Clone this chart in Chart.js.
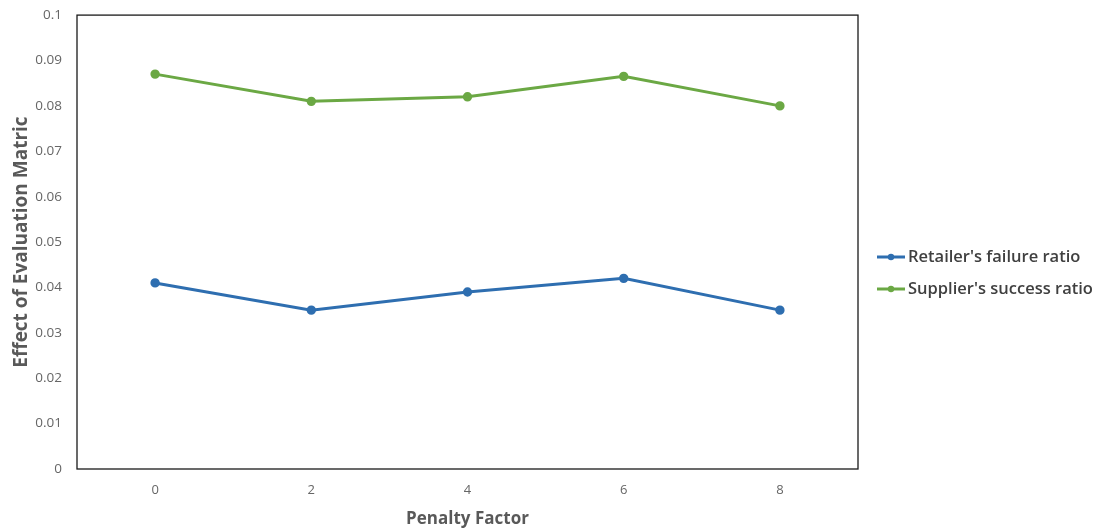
<!DOCTYPE html>
<html>
<head>
<meta charset="utf-8">
<script src="https://cdn.jsdelivr.net/npm/chart.js@4"></script>
<style>
  html, body { margin: 0; padding: 0; background: #fff; }
  #wrap { width: 1098px; height: 529px; }
</style>
</head>
<body>
<div id="wrap"><canvas id="c" width="1098" height="529"></canvas></div>
<script>
const categories = ['0', '2', '4', '6', '8'];
const retailerFailure = [0.041, 0.035, 0.039, 0.042, 0.035];
const supplierSuccess = [0.087, 0.081, 0.082, 0.0865, 0.080];
const yTicks = [0, 0.01, 0.02, 0.03, 0.04, 0.05, 0.06, 0.07, 0.08, 0.09, 0.1];

const FONT = '"Open Sans", "Noto Sans", sans-serif';
const BLUE = '#2E6EB0';
const GREEN = '#6BA844';

// Frame around the plot area
const frame = {
  id: 'frame',
  afterDatasetsDraw(chart) {
    const a = chart.chartArea, ctx = chart.ctx;
    ctx.save();
    ctx.strokeStyle = '#1a1a1a';
    ctx.lineWidth = 1.3;
    ctx.strokeRect(a.left, a.top, a.right - a.left, a.bottom - a.top);
    ctx.restore();
  }
};

// Legend on the right: line segment with a dot, then label
const sideLegend = {
  id: 'sideLegend',
  afterDraw(chart) {
    const ctx = chart.ctx;
    const x0 = 877, x1 = 905;
    const rows = [257, 289];
    ctx.save();
    chart.data.datasets.forEach((ds, i) => {
      const y = rows[i];
      ctx.strokeStyle = ds.borderColor;
      ctx.lineWidth = 3;
      ctx.beginPath();
      ctx.moveTo(x0, y);
      ctx.lineTo(x1, y);
      ctx.stroke();
      ctx.fillStyle = ds.borderColor;
      ctx.beginPath();
      ctx.arc((x0 + x1) / 2, y, 3.2, 0, Math.PI * 2);
      ctx.fill();
      ctx.fillStyle = '#404040';
      ctx.font = '600 16.5px ' + FONT;
      ctx.textBaseline = 'middle';
      ctx.textAlign = 'left';
      ctx.fillText(ds.label, x1 + 3, y);
    });
    ctx.restore();
  }
};

new Chart(document.getElementById('c'), {
  type: 'line',
  data: {
    labels: categories,
    datasets: [
      {
        label: "Retailer's failure ratio",
        data: retailerFailure,
        borderColor: BLUE,
        backgroundColor: BLUE,
        borderWidth: 3,
        pointRadius: 3.2,
        pointHoverRadius: 4,
        tension: 0
      },
      {
        label: "Supplier's success ratio",
        data: supplierSuccess,
        borderColor: GREEN,
        backgroundColor: GREEN,
        borderWidth: 3,
        pointRadius: 3.2,
        pointHoverRadius: 4,
        tension: 0
      }
    ]
  },
  options: {
    responsive: false,
    animation: false,
    layout: { padding: { top: 3, right: 240, left: 10, bottom: 0 } },
    plugins: {
      legend: { display: false },
      tooltip: { enabled: false }
    },
    scales: {
      x: {
        offset: true,
        grid: { display: false },
        border: { display: false },
        ticks: { color: '#666666', font: { family: FONT, size: 13 }, padding: 5 },
        title: {
          display: true,
          text: 'Penalty Factor',
          color: '#595959',
          font: { family: FONT, size: 17, weight: 'bold' },
          padding: { top: 8, bottom: 0 }
        },
        afterFit(scale) { scale.height = 60; }
      },
      y: {
        min: 0,
        max: 0.1,
        grid: { display: false },
        border: { display: false },
        afterBuildTicks(scale) { scale.ticks = yTicks.map(v => ({ value: v })); },
        ticks: {
          color: '#666666',
          font: { family: FONT, size: 13.5 },
          padding: 7,
          callback: v => String(+v.toFixed(2))
        },
        title: {
          display: true,
          text: 'Effect of Evaluation Matric',
          color: '#595959',
          font: { family: FONT, size: 19, weight: 'bold' },
          padding: { top: 0, bottom: 8 }
        },
        afterFit(scale) { scale.width = 67; }
      }
    }
  },
  plugins: [frame, sideLegend]
});
</script>
</body>
</html>
